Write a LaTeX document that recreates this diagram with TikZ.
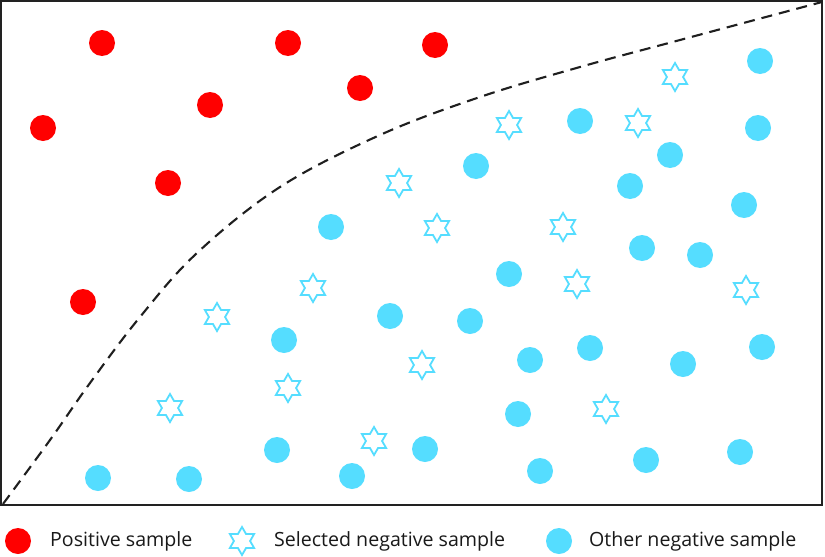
\documentclass[tikz,border=0pt]{standalone}
\usepackage{fontspec}
\setmainfont{Open Sans}
\usetikzlibrary{shapes.geometric}
\definecolor{posred}{RGB}{255,0,0}
\definecolor{negcyan}{RGB}{85,221,255}
\definecolor{framegray}{RGB}{34,34,34}
\tikzset{
  possample/.style={circle, fill=posred, draw=none, minimum size=26pt, inner sep=0pt},
  othsample/.style={circle, fill=negcyan, draw=none, minimum size=26pt, inner sep=0pt},
  selsample/.style={star, star points=6, star point ratio=1.73, draw=negcyan, line width=1.8pt, fill=white, minimum size=28pt, inner sep=0pt},
  legtext/.style={anchor=west, font=\fontsize{19.6}{23}\selectfont, text=black!90, inner sep=0pt},
  boundary/.style={draw=black!88, line width=2.1pt, dash pattern=on 11pt off 7pt},
}
\begin{document}
\begin{tikzpicture}[x=1pt,y=-1pt]
\useasboundingbox (0,0) rectangle (825,557);
\fill[white] (0,0) rectangle (825,557);
\draw[framegray, line width=2pt] (1,1) rectangle (822,505);
% boundary curve
\coordinate (c0) at (3,504);
\coordinate (c1) at (822,2);
\draw[boundary] plot[smooth, tension=0.6] coordinates {(3,504) (50,440) (90,383) (140,317) (197,253) (280,187) (380,135) (480,97) (580,67) (680,40) (822,2)};
% positive samples
\foreach \n/\x/\y in {p1/102/43, p2/288/43, p3/435/45, p4/210/105, p5/360/88, p6/43/128, p7/168/183, p8/83/302}
  \node[possample] (\n) at (\x,\y) {};
% other negative samples
\foreach \n/\x/\y in {o1/760/61, o2/580/121, o3/758/128, o4/670/155, o5/476/166, o6/630/186, o7/744/205, o8/331/227, o9/642/248, o10/700/255, o11/509/274, o12/390/316, o13/470/321, o14/284/340, o15/590/348, o16/530/360, o17/683/364, o18/762/347, o19/518/414, o20/425/449, o21/277/450, o22/540/471, o23/646/460, o24/740/452, o25/352/476, o26/189/479, o27/98/478}
  \node[othsample] (\n) at (\x,\y) {};
% selected negative samples
\foreach \n/\x/\y in {s1/675/77, s2/509/125, s3/638/123, s4/399/183, s5/437/228, s6/563/227, s7/313/288, s8/577/284, s9/746/290, s10/217/317, s11/422/365, s12/288/388, s13/170/408, s14/606/409, s15/374/441}
  \node[selsample] (\n) at (\x,\y) {};
% legend
\node[possample] (lp) at (18,541) {};
\node[legtext] (lpt) at (50,541) {Positive sample};
\node[selsample] (ls) at (242,541) {};
\node[legtext] (lst) at (274,541) {Selected negative sample};
\node[othsample] (lo) at (559,541) {};
\node[legtext] (lot) at (589,541) {Other negative sample};
\end{tikzpicture}
\end{document}
